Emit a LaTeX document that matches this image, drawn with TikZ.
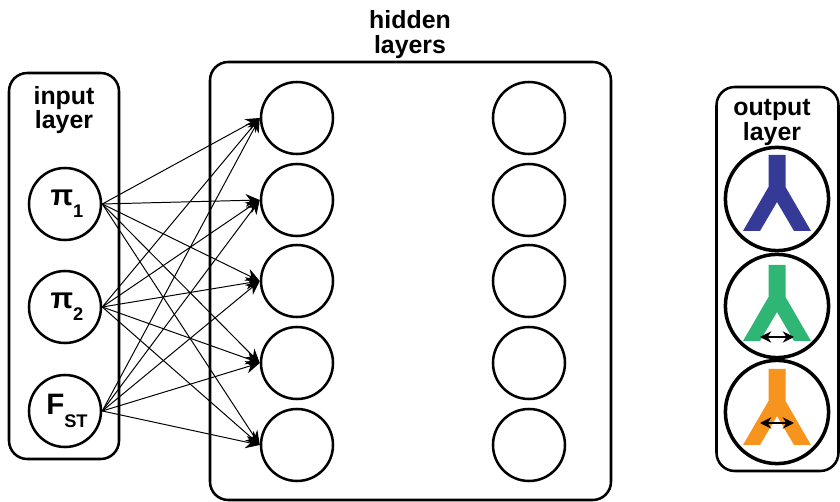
\documentclass[tikz,border=0pt]{standalone}
\usepackage{fontspec}
\setmainfont{Liberation Sans}
\usetikzlibrary{arrows.meta}
\definecolor{forkblue}{HTML}{353A96}
\definecolor{forkgreen}{HTML}{2FB574}
\definecolor{forkorange}{HTML}{F7941E}
\newcommand{\sublabel}[2]{{\fontsize{21}{21}\selectfont\bfseries\hspace{2.8pt}\raisebox{-1pt}{#1}\raisebox{-0.46em}{\fontsize{13}{13}\selectfont #2}}}
\tikzset{
    >={Stealth[length=10pt,width=9pt]},
    layerbox/.style={draw=black,line width=1.8pt,rounded corners=13pt,inner sep=0pt},
    layertext/.style={align=center,font=\fontsize{17.7}{17.6}\selectfont\bfseries},
    unit/.style={shape=circle,draw=black,line width=1.8pt,inner sep=0pt,minimum size=1.8cm},
    outunit/.style={shape=circle,draw=black,line width=2.5pt,inner sep=0pt,minimum size=2.58cm},
    link/.style={line width=0.7pt},
    spread/.style={<->,line width=1.5pt,>={Stealth[length=8pt,width=8pt]}},
    pics/fork/.style={code={
        \fill[#1] (-0.2125,0.95) -- (0.2125,0.95) -- (0.2125,0.15) -- (0.85,-0.95) -- (0.425,-0.95)
            -- (0,-0.225) -- (-0.425,-0.95) -- (-0.85,-0.95) -- (-0.2125,0.15) -- cycle;
    }}
}
\begin{document}
\begin{tikzpicture}
    \useasboundingbox (0,0) rectangle (21,12.55);
    % boxes
    \node[layerbox,minimum width=2.75cm,minimum height=9.65cm] (inputbox) at (1.6,5.9) {};
    \node[layerbox,minimum width=10.025cm,minimum height=10.95cm] (hiddenbox) at (10.2625,5.525) {};
    \node[layerbox,minimum width=3.05cm,minimum height=9.6cm] (outputbox) at (19.4375,5.575) {};
    \node[layertext] (inputlabel) at (1.6,9.8) {input\\layer};
    \node[layertext] (hiddenlabel) at (10.25,11.69) {hidden\\layers};
    \node[layertext] (outputlabel) at (19.3,9.48) {output\\layer};
    % input layer
    \node[unit] (pi1) at (1.625,7.45) {\sublabel{π}{1}};
    \node[unit] (pi2) at (1.625,4.875) {\sublabel{π}{2}};
    \node[unit] (fst) at (1.625,2.275) {\sublabel{F}{ST}};
    % hidden layers
    \node[unit] (a1) at (7.425,9.6) {};
    \node[unit] (a2) at (7.425,7.55) {};
    \node[unit] (a3) at (7.425,5.525) {};
    \node[unit] (a4) at (7.425,3.475) {};
    \node[unit] (a5) at (7.425,1.425) {};
    \node[unit] (b1) at (13.225,9.6) {};
    \node[unit] (b2) at (13.225,7.55) {};
    \node[unit] (b3) at (13.225,5.525) {};
    \node[unit] (b4) at (13.225,3.475) {};
    \node[unit] (b5) at (13.225,1.425) {};
    % output layer
    \node[outunit] (out1) at (19.425,7.575) {};
    \node[outunit] (out2) at (19.425,4.9) {};
    \node[outunit] (out3) at (19.425,2.25) {};
    \pic at (19.425,7.725) {fork=forkblue};
    \pic at (19.425,4.975) {fork=forkgreen};
    \pic at (19.425,2.375) {fork=forkorange};
    \coordinate (gl) at (19.0,4.125);
    \coordinate (gr) at (19.85,4.125);
    \coordinate (ol) at (19.0,1.975);
    \coordinate (or) at (19.85,1.975);
    \path [spread] (gl) edge (gr);
    \path [spread] (ol) edge (or);
    % links
    \path [->,link] (pi1.east) edge (a1.west);
    \path [->,link] (pi1.east) edge (a2.west);
    \path [->,link] (pi1.east) edge (a3.west);
    \path [->,link] (pi1.east) edge (a4.west);
    \path [->,link] (pi1.east) edge (a5.west);
    \path [->,link] (pi2.east) edge (a1.west);
    \path [->,link] (pi2.east) edge (a2.west);
    \path [->,link] (pi2.east) edge (a3.west);
    \path [->,link] (pi2.east) edge (a4.west);
    \path [->,link] (pi2.east) edge (a5.west);
    \path [->,link] (fst.east) edge (a1.west);
    \path [->,link] (fst.east) edge (a2.west);
    \path [->,link] (fst.east) edge (a3.west);
    \path [->,link] (fst.east) edge (a4.west);
    \path [->,link] (fst.east) edge (a5.west);
\end{tikzpicture}
\end{document}
